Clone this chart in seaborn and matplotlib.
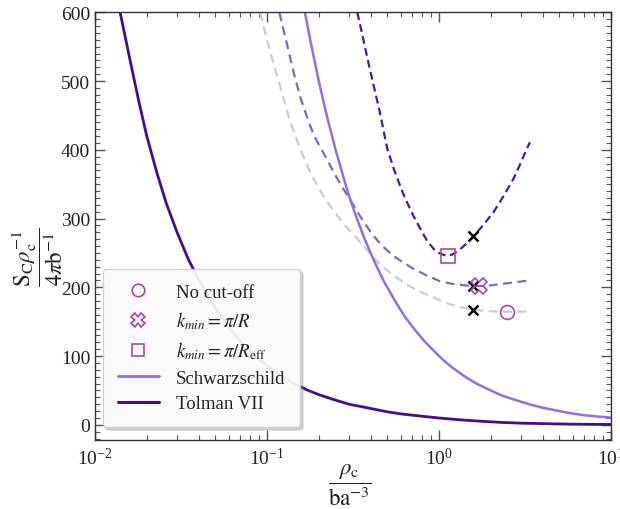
import numpy as np
import pandas as pd
import matplotlib
matplotlib.use("Agg")
import matplotlib.pyplot as plt
from matplotlib.lines import Line2D
from matplotlib.ticker import LogLocator, MultipleLocator, NullFormatter
import seaborn as sns

# ---------------- data ----------------
tolman_rho = [0.014, 0.016, 0.018, 0.02, 0.023, 0.026, 0.03, 0.035, 0.04, 0.05, 0.06, 0.07,
              0.085, 0.1, 0.12, 0.14, 0.17, 0.2, 0.25, 0.3, 0.38, 0.5, 0.6, 0.8, 1.0, 1.3,
              1.7, 2.3, 3.0, 4.4, 6.0, 8.0, 10.0]
tolman_val = [600, 530, 470, 420, 365, 322, 280, 240, 212, 170, 142, 122,
              101, 86, 72, 62, 51, 44, 36, 30, 25, 19, 16, 12.5, 10, 7.5,
              5.5, 3.6, 2.5, 1.6, 1.0, 0.7, 0.6]

schw_rho = [0.166, 0.18, 0.2, 0.22, 0.25, 0.28, 0.3, 0.33, 0.37, 0.42, 0.48, 0.55, 0.63,
            0.72, 0.82, 0.93, 1.05, 1.2, 1.4, 1.65, 2.0, 2.3, 2.8, 3.4, 4.0, 4.8, 5.8,
            7.0, 8.5, 10.0]
schw_val = [600, 555, 500, 455, 401, 358, 333, 303, 270, 238, 208, 182, 158,
            139, 122, 108, 95, 83, 71, 60, 50, 43, 36, 29.5, 25, 21, 17,
            14, 12, 10.5]

# k_min = pi/R_eff (dark dashed)
reff_rho = [0.335, 0.36, 0.39, 0.42, 0.45, 0.5, 0.55, 0.6, 0.634, 0.68, 0.71, 0.78, 0.85,
            0.93, 1.0, 1.07, 1.13, 1.2, 1.32, 1.45, 1.585, 1.8, 2.07, 2.35, 2.7, 3.0,
            3.23, 3.38]
reff_val = [600, 565, 525, 490, 458, 402, 370, 345, 330, 314, 304, 285, 268,
            256, 250, 247, 246, 248, 255, 264, 274, 290, 309, 331, 357, 382,
            401, 411]

# k_min = pi/R (medium dashed)
kr_rho = [0.118, 0.13, 0.143, 0.156, 0.175, 0.19, 0.208, 0.23, 0.25, 0.275, 0.303, 0.335,
          0.37, 0.41, 0.464, 0.52, 0.57, 0.64, 0.71, 0.78, 0.85, 0.93, 1.01, 1.1, 1.2,
          1.4, 1.585, 1.8, 2.0, 2.26, 2.5, 2.8, 3.1, 3.38]
kr_val = [600, 556, 512, 477, 440, 418, 400, 380, 363, 345, 328, 310,
          293, 277, 261, 250, 242, 234, 227, 222, 217, 213, 209, 207, 205,
          203, 202, 202, 203, 204.5, 206, 207.5, 209, 210]

# no cut-off (light dashed)
nc_rho = [0.091, 0.1, 0.11, 0.12, 0.136, 0.156, 0.18, 0.209, 0.23, 0.252, 0.28, 0.32, 0.36,
          0.413, 0.47, 0.54, 0.6, 0.651, 0.73, 0.82, 0.92, 1.01, 1.11, 1.25, 1.4, 1.585,
          1.8, 2.1, 2.5, 2.9, 3.38]
nc_val = [600, 560, 522, 490, 442, 401, 365, 336, 320, 307, 292, 276, 262,
          244, 230, 218, 210, 204, 197, 191, 186, 181, 177, 173, 170, 167.5,
          166, 165, 164.5, 164.5, 165]

# special points
pt_nocut = (2.50, 164)
pt_kr = (1.71, 202)
pt_reff = (1.13, 246)
cross_rho = [1.585, 1.585, 1.585]
cross_val = [274, 202, 167]

xticks = [1e-2, 1e-1, 1e0, 1e1]
yticks = [0, 100, 200, 300, 400, 500, 600]

# ---------------- styling ----------------
sns.set_theme(style="ticks")
plt.rcParams["font.family"] = ["Liberation Serif", "DejaVu Serif"]
plt.rcParams["mathtext.fontset"] = "stix"

c_tol = "#4a0a8c"
c_sch = "#9370db"
c_reff = "#4b1a96"
c_kr = "#7a68c4"
c_nc = "#cdc6e8"
c_mk = "#a44aac"

fig = plt.figure(figsize=(6.2, 5.1), dpi=100)
ax = fig.add_axes([0.1532, 0.1353, 0.8323, 0.8386])

def line(x, y, **kw):
    df = pd.DataFrame({"x": x, "y": y})
    sns.lineplot(data=df, x="x", y="y", ax=ax, sort=False, estimator=None, **kw)

line(nc_rho, nc_val, color=c_nc, lw=1.6, linestyle=(0, (4, 2.5)))
line(kr_rho, kr_val, color=c_kr, lw=1.6, linestyle=(0, (4, 2.5)))
line(reff_rho, reff_val, color=c_reff, lw=1.6, linestyle=(0, (3.5, 2)))
line(schw_rho, schw_val, color=c_sch, lw=1.8)
line(tolman_rho, tolman_val, color=c_tol, lw=2.0)

ax.plot(cross_rho, cross_val, linestyle="none", marker="x", color="black",
        markersize=6.5, markeredgewidth=1.8, zorder=5)
ax.plot([pt_nocut[0]], [pt_nocut[1]], linestyle="none", marker="o", markersize=10,
        markerfacecolor="none", markeredgecolor=c_mk, markeredgewidth=1.2, zorder=6)
ax.plot([pt_kr[0]], [pt_kr[1]], linestyle="none", marker="X", markersize=11,
        markerfacecolor="none", markeredgecolor=c_mk, markeredgewidth=1.2, zorder=6)
ax.plot([pt_reff[0]], [pt_reff[1]], linestyle="none", marker="s", markersize=9.5,
        markerfacecolor="none", markeredgecolor=c_mk, markeredgewidth=1.2, zorder=6)

ax.set_xscale("log")
ax.set_xlim(1e-2, 1e1)
ax.set_ylim(-22, 600)
ax.set_xticks(xticks)
ax.set_yticks(yticks)
ax.xaxis.set_minor_locator(LogLocator(base=10, subs=np.arange(2, 10)))
ax.xaxis.set_minor_formatter(NullFormatter())
ax.yaxis.set_minor_locator(MultipleLocator(10))

for s in ax.spines.values():
    s.set_color("#333333")
    s.set_linewidth(1.0)
ax.tick_params(which="both", direction="in", top=True, right=True, colors="#555555",
               labelcolor="#222222", labelsize=14)
ax.tick_params(which="major", length=7, width=1.0)
ax.tick_params(which="minor", length=3.5, width=0.8)
ax.tick_params(axis="x", which="major", pad=5)

ax.set_xlabel(r"$\dfrac{\rho_{\mathrm{c}}}{\mathrm{ba}^{-3}}$", fontsize=16.5, color="#222222")
ax.set_ylabel(r"$\dfrac{\mathrm{S}_{\mathrm{C}}\rho_{\mathrm{c}}^{-1}}{4\pi\mathrm{b}^{-1}}$",
              fontsize=16.5, color="#222222")
ax.yaxis.set_label_coords(-0.058, 0.43)
ax.xaxis.set_label_coords(0.494, -0.05)

handles = [
    Line2D([], [], linestyle="none", marker="o", markersize=9, markerfacecolor="none",
           markeredgecolor=c_mk, markeredgewidth=1.2),
    Line2D([], [], linestyle="none", marker="X", markersize=10, markerfacecolor="none",
           markeredgecolor=c_mk, markeredgewidth=1.2),
    Line2D([], [], linestyle="none", marker="s", markersize=9, markerfacecolor="none",
           markeredgecolor=c_mk, markeredgewidth=1.2),
    Line2D([], [], color=c_sch, lw=2.0),
    Line2D([], [], color=c_tol, lw=2.2),
]
labels = ["No cut-off", r"$k_{min} = \pi/R$", r"$k_{min} = \pi/R_{\mathrm{eff}}$",
          "Schwarzschild", "Tolman VII"]
leg = ax.legend(handles, labels, loc="lower left", bbox_to_anchor=(0.015, 0.03),
                borderaxespad=0, fontsize=13.5, frameon=True, fancybox=True,
                shadow={"alpha": 0.3, "color": "#777777"},
                framealpha=0.9, handlelength=2.2, handletextpad=0.9,
                labelspacing=0.45, borderpad=0.8)
leg.get_frame().set_edgecolor("#cccccc")
leg.get_frame().set_facecolor("#ffffff")
for t in leg.get_texts():
    t.set_color("#222222")

fig.savefig("out.png", dpi=100)
